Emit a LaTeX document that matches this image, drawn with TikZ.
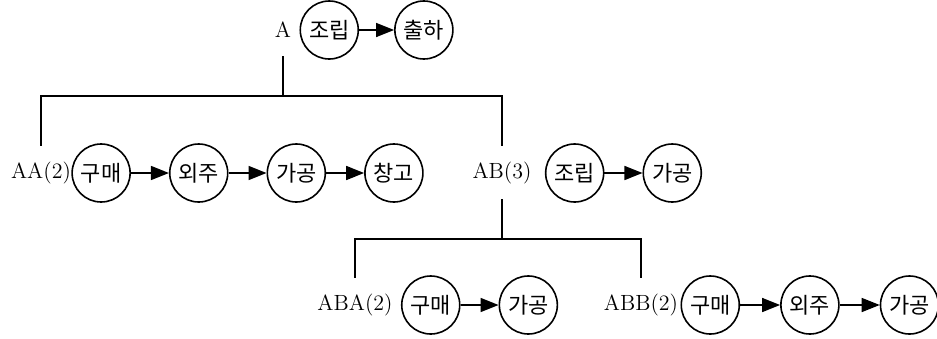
\documentclass[tikz,border=0pt]{standalone}
\usepackage{fontspec}
\usepackage{tikz}
\usetikzlibrary{trees,positioning,arrows.meta}
\newfontfamily\kor{Noto Sans CJK KR}

\tikzset{
    proc/.style={circle,draw,thick,minimum size=29pt,inner sep=0pt,font=\kor\fontsize{11}{13}\selectfont},
    flow/.style={thick,-{Triangle[length=9pt,width=7pt]}},
}

\begin{document}
\begin{tikzpicture}[x=0.5pt,y=-0.5pt,
    level 1/.style={sibling distance=230.5pt,level distance=71.5pt},
    level 2/.style={sibling distance=143pt,level distance=66pt},
    every node/.style={inner sep=0pt,font=\fontsize{11}{13}\selectfont},
    edge from parent/.style={draw,semithick},
    edge from parent path={([yshift=-13pt]\tikzparentnode.center) -- ([yshift=-33pt]\tikzparentnode.center) -| ([yshift=13.5pt]\tikzchildnode.center)},
    node distance=19pt
]
    \useasboundingbox (0,0) rectangle (937,338);

    % product tree
    \node (a) at (283,30) {A}
    child{node[xshift=-5.75pt] (aa) {AA(2)}}
    child{
        node[xshift=-5.75pt] (ab) {AB(3)}
        child{node[xshift=-2pt] (aba) {ABA(2)}}
        child{node[xshift=-2pt] (abb) {ABB(2)}}};

    % A
    \node[proc,right=4pt of a] (a1) {조립};
    \node[proc,right=17.5pt of a1] (a2) {출하};
    \draw[flow] (a1) -- (a2);

    % AA
    \node[proc,right=0pt of aa] (aa1) {구매};
    \node[proc,right=of aa1] (aa2) {외주};
    \node[proc,right=of aa2] (aa3) {가공};
    \node[proc,right=of aa3] (aa4) {창고};
    \draw[flow] (aa1) -- (aa2);
    \draw[flow] (aa2) -- (aa3);
    \draw[flow] (aa3) -- (aa4);

    % AB
    \node[proc,right=6.5pt of ab] (ab1) {조립};
    \node[proc,right=of ab1] (ab2) {가공};
    \draw[flow] (ab1) -- (ab2);

    % ABA
    \node[proc,right=4pt of aba] (aba1) {구매};
    \node[proc,right=of aba1] (aba2) {가공};
    \draw[flow] (aba1) -- (aba2);

    % ABB
    \node[proc,right=1pt of abb] (abb1) {구매};
    \node[proc,right=20pt of abb1] (abb2) {외주};
    \node[proc,right=20pt of abb2] (abb3) {가공};
    \draw[flow] (abb1) -- (abb2);
    \draw[flow] (abb2) -- (abb3);

\end{tikzpicture}
\end{document}
